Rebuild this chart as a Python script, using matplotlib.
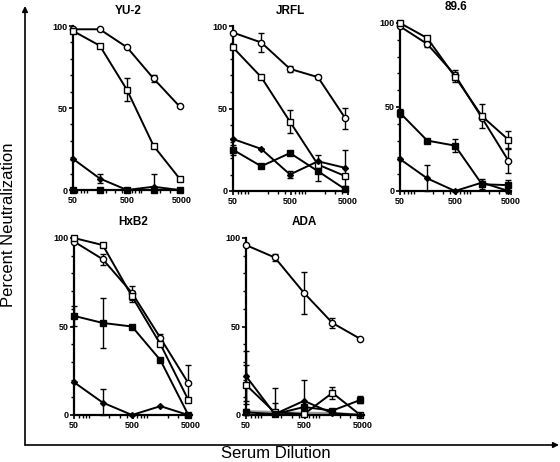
import numpy as np
import matplotlib
matplotlib.use("Agg")
import matplotlib.pyplot as plt
from matplotlib.ticker import LogLocator, FixedLocator, NullFormatter

plt.rcParams['font.family'] = ['Liberation Sans', 'DejaVu Sans']

# serum dilutions
dilution = [50, 155, 490, 1500, 4500]

# YU-2
yu2_circle = [98, 98, 87, 68, 51]
yu2_circle_err = [0, 0, 0, 2, 0]
yu2_osq = [97, 88, 61, 27, 7]
yu2_osq_err = [0, 0, 7, 0, 0]
yu2_fsq = [0, 0, 0, 0, 0]
yu2_fsq_err = [0, 0, 0, 0, 0]
yu2_dia = [19, 7, 0, 2, 0]
yu2_dia_err = [0, 3, 0, 8, 0]

# JRFL
jrfl_circle = [96, 90, 74, 69, 44]
jrfl_circle_err = [0, 5.5, 2, 1, 6.5]
jrfl_osq = [87, 69, 42, 16, 9]
jrfl_osq_err = [0, 1, 7, 0, 0]
jrfl_fsq = [25, 15, 23, 12, 1]
jrfl_fsq_err = [3, 0, 0, 6, 0]
jrfl_dia = [31.5, 25.5, 10, 18, 14]
jrfl_dia_err = [0, 0, 2, 4, 11]

# 89.6
b896_circle = [98, 87.5, 69, 43.5, 18]
b896_circle_err = [0, 2, 3, 0, 7]
b896_osq = [100, 91, 68, 44.5, 30.5]
b896_osq_err = [0, 0, 3, 7, 5]
b896_fsq = [46.5, 30, 27, 4, 3.5]
b896_fsq_err = [2.5, 0, 4, 3, 3]
b896_dia = [19, 7.5, 0, 5, 0]
b896_dia_err = [0, 8, 0, 0, 0]

# HxB2
hxb2_circle = [98, 88, 69, 43.5, 18]
hxb2_circle_err = [0, 3, 4, 2, 10]
hxb2_osq = [100, 96, 67, 40, 8.5]
hxb2_osq_err = [0, 0, 3, 0, 0]
hxb2_fsq = [56, 52, 50, 31, 0]
hxb2_fsq_err = [5.5, 14, 0, 0, 0]
hxb2_dia = [18.5, 7, 0, 5, 0]
hxb2_dia_err = [0, 7.5, 0, 0, 0]

# ADA
ada_circle = [96, 89, 69, 52, 43]
ada_circle_err = [0, 2, 12, 3, 0]
ada_osq = [17, 1.5, 0.5, 12.5, 0]
ada_osq_err = [11, 5, 0, 3.5, 0]
ada_fsq = [1.5, 0.5, 4.5, 2.5, 8.5]
ada_fsq_err = [2, 0, 0, 0, 2]
ada_dia = [22, 0.5, 8, 1, 0]
ada_dia_err = [14, 15, 12, 0, 0]
ada_grey = [2, 1.5, 1, 1, 0]

W, H = 560, 462
fig = plt.figure(figsize=(W / 100, H / 100), dpi=100)


def make_panel(x50, x5000, y100, y0, title):
    # pixel positions of 50 / 5000 and 100 / 0 -> axes rectangle
    width = (x5000 - x50) * np.log10(5100 / 50) / 2
    ax = fig.add_axes([x50 / W, 1 - y0 / H, width / W, (y0 - y100) / H])
    ax.set_xscale('log')
    ax.set_xlim(50, 5100)
    ax.set_ylim(0, 100)
    for s in ['top', 'right']:
        ax.spines[s].set_visible(False)
    for s in ['left', 'bottom']:
        ax.spines[s].set_linewidth(1.6)
    ax.xaxis.set_major_locator(FixedLocator([50, 500, 5000]))
    ax.set_xticklabels(['50', '500', '5000'])
    ax.xaxis.set_minor_locator(LogLocator(base=10, subs=np.arange(2, 10)))
    ax.xaxis.set_minor_formatter(NullFormatter())
    ax.set_yticks([0, 50, 100])
    ax.set_yticks(np.arange(10, 100, 10), minor=True)
    ax.tick_params(which='major', length=3, width=1.2, pad=1, labelsize=6.5)
    ax.tick_params(which='minor', length=2, width=1.0)
    for lab in ax.get_xticklabels() + ax.get_yticklabels():
        lab.set_fontweight('bold')
    ax.set_title(title, fontsize=8.5, fontweight='bold', pad=9)
    return ax


def series(ax, y, err, marker, fill, ms=4.5, color='black', lw=1.4):
    # bars do not go below the axis
    lower = [min(e, v) for e, v in zip(err, y)]
    ax.errorbar(dilution, y, yerr=[lower, err], color=color, lw=lw, marker=marker,
                ms=ms, mfc=fill, mec=color, mew=1.0, capsize=2.5,
                elinewidth=1.0, capthick=1.0, clip_on=False, zorder=3)


panels = [
    ((73, 182, 26, 190, 'YU-2'),
     [(yu2_circle, yu2_circle_err), (yu2_osq, yu2_osq_err),
      (yu2_fsq, yu2_fsq_err), (yu2_dia, yu2_dia_err)]),
    ((233, 348, 26, 191, 'JRFL'),
     [(jrfl_circle, jrfl_circle_err), (jrfl_osq, jrfl_osq_err),
      (jrfl_fsq, jrfl_fsq_err), (jrfl_dia, jrfl_dia_err)]),
    ((400, 511, 23, 191, '89.6'),
     [(b896_circle, b896_circle_err), (b896_osq, b896_osq_err),
      (b896_fsq, b896_fsq_err), (b896_dia, b896_dia_err)]),
    ((74, 191, 238, 415, 'HxB2'),
     [(hxb2_circle, hxb2_circle_err), (hxb2_osq, hxb2_osq_err),
      (hxb2_fsq, hxb2_fsq_err), (hxb2_dia, hxb2_dia_err)]),
    ((246, 363, 238, 415, 'ADA'),
     [(ada_circle, ada_circle_err), (ada_osq, ada_osq_err),
      (ada_fsq, ada_fsq_err), (ada_dia, ada_dia_err)]),
]

for geom, data in panels:
    ax = make_panel(*geom)
    if geom[4] == 'ADA':
        ax.plot(dilution, ada_grey, color='#999999', lw=2.0, zorder=2, clip_on=False)
    (c, ce), (o, oe), (f, fe), (d, de) = data
    series(ax, c, ce, 'o', 'white')
    series(ax, o, oe, 's', 'white')
    series(ax, f, fe, 's', 'black')
    series(ax, d, de, 'D', 'black', ms=3)

# outer frame with arrows
frame = fig.add_axes([0, 0, 1, 1], facecolor='none')
frame.set_xlim(0, W)
frame.set_ylim(H, 0)
frame.axis('off')
arrow = dict(arrowstyle='-|>', color='black', lw=1.2, mutation_scale=8, shrinkA=0, shrinkB=0)
frame.annotate('', xy=(25, 6), xytext=(25, 445), arrowprops=arrow)
frame.annotate('', xy=(559, 445), xytext=(25, 445), arrowprops=arrow)
frame.text(9, 225, 'Percent Neutralization', rotation=90, ha='center', va='center', fontsize=12)
frame.text(276, 454, 'Serum Dilution', ha='center', va='center', fontsize=12)

fig.savefig('out.png', dpi=100)
